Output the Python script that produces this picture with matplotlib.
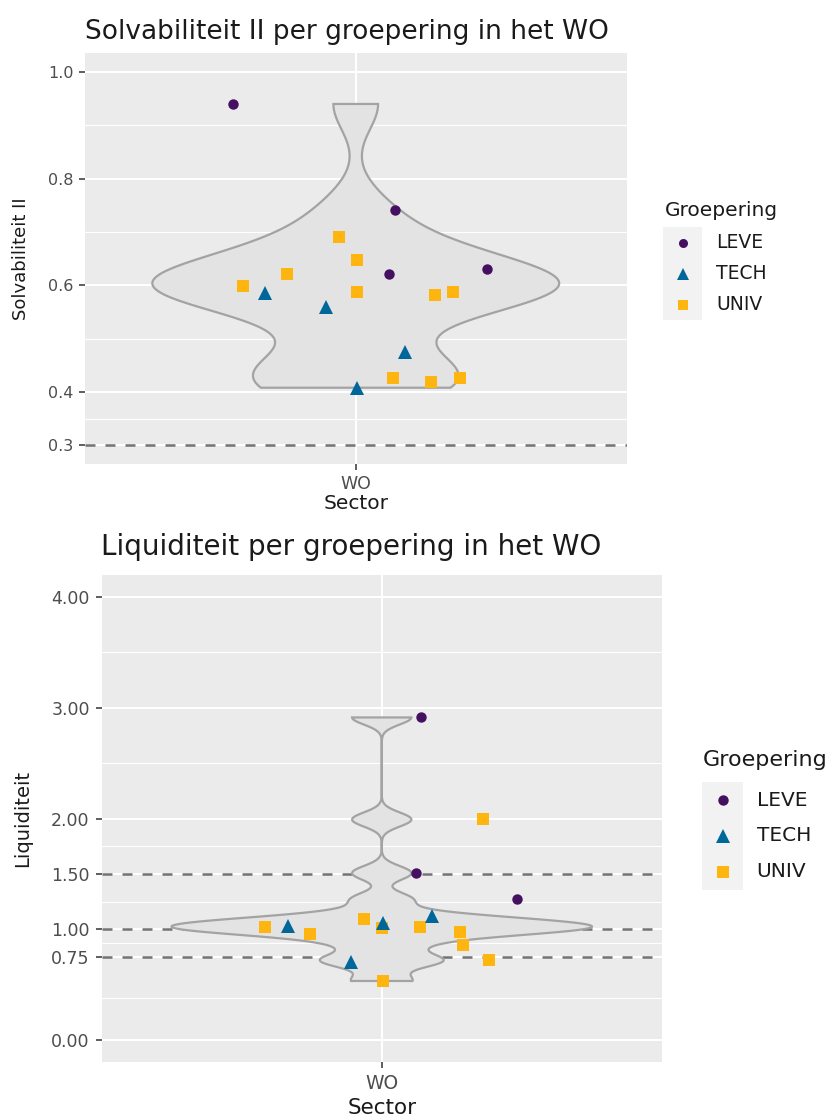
import numpy as np
import matplotlib
matplotlib.use("Agg")
import matplotlib.pyplot as plt
from matplotlib.lines import Line2D
from matplotlib.patches import Rectangle

plt.rcParams['font.family'] = ['DejaVu Sans']

# ---------------- data ----------------
groups = ["LEVE", "TECH", "UNIV"]
group_colors = {"LEVE": "#451060", "TECH": "#00679A", "UNIV": "#FFB50F"}
group_markers = {"LEVE": "o", "TECH": "^", "UNIV": "s"}

# Solvabiliteit II (top panel); jitter = horizontal jitter
solv_leve = [0.940, 0.741, 0.621, 0.630]
solv_leve_jit = [0.729, 1.086, 1.074, 1.290]
solv_tech = [0.585, 0.560, 0.475, 0.408]
solv_tech_jit = [0.800, 0.934, 1.108, 1.003]
solv_univ = [0.599, 0.621, 0.690, 0.648, 0.588, 0.582, 0.588, 0.427, 0.419, 0.427]
solv_univ_jit = [0.750, 0.847, 0.964, 1.002, 1.003, 1.175, 1.216, 1.082, 1.167, 1.231]

# Liquiditeit (bottom panel)
liq_leve = [2.913, 1.507, 1.270]
liq_leve_jit = [1.083, 1.074, 1.289]
liq_tech = [1.030, 0.705, 1.120, 1.054]
liq_tech_jit = [0.800, 0.934, 1.107, 1.002]
liq_univ = [1.018, 0.952, 1.090, 1.012, 0.532, 0.856, 1.991, 1.018, 0.976, 0.724]
liq_univ_jit = [0.749, 0.846, 0.963, 1.000, 1.003, 1.173, 1.217, 1.081, 1.167, 1.230]

solv_ticks = [0.3, 0.4, 0.6, 0.8, 1.0]
solv_tick_labels = ["0.3", "0.4", "0.6", "0.8", "1.0"]
solv_hlines = [0.3]
liq_ticks = [0.0, 0.75, 1.0, 1.5, 2.0, 3.0, 4.0]
liq_tick_labels = ["0.00", "0.75", "1.00", "1.50", "2.00", "3.00", "4.00"]
liq_hlines = [0.75, 1.0, 1.5]
x_category = "WO"

W, H = 832, 1118
fig = plt.figure(figsize=(W / 100, H / 100), dpi=100)


def fx(x):
    return x / W


def fy(y):
    return 1 - y / H


def nrd0(x):
    x = np.asarray(x, float)
    hi = np.std(x, ddof=1)
    iqr = np.quantile(x, 0.75) - np.quantile(x, 0.25)
    lo = min(hi, iqr / 1.34)
    if lo <= 0:
        lo = hi
    return 0.9 * lo * len(x) ** (-0.2)


def violin(ax, vals):
    vals = np.asarray(vals, float)
    bw = nrd0(vals)
    ys = np.linspace(vals.min(), vals.max(), 512)
    dens = np.exp(-0.5 * ((ys[:, None] - vals[None, :]) / bw) ** 2).sum(axis=1)
    w = dens / dens.max() * 0.45
    xs = np.concatenate([1 - w, (1 + w)[::-1]])
    yy = np.concatenate([ys, ys[::-1]])
    ax.fill(xs, yy, facecolor="#E3E3E3", edgecolor="#A3A3A3", lw=1.6, zorder=3)


def panel(box, ylim, ticks, ticklabels, hlines, tick_fs, xtick_fs, pad, ticklen):
    l, t, r, b = box
    ax = fig.add_axes([fx(l), fy(b), fx(r) - fx(l), (b - t) / H])
    ax.set_facecolor("#EBEBEB")
    for s in ax.spines.values():
        s.set_visible(False)
    ax.set_xlim(0.4, 1.6)
    ax.set_ylim(*ylim)
    ax.set_xticks([1])
    ax.set_xticklabels([x_category])
    ax.set_yticks(ticks)
    ax.set_yticklabels(ticklabels)
    minors = [(a + c) / 2 for a, c in zip(ticks[:-1], ticks[1:])]
    ax.set_yticks(minors, minor=True)
    ax.tick_params(axis="both", which="major", length=ticklen, width=1.1,
                   color="#333333", labelcolor="#4D4D4D", labelsize=tick_fs, pad=pad)
    ax.tick_params(axis="x", which="major", labelsize=xtick_fs)
    ax.tick_params(axis="y", which="minor", length=0)
    ax.grid(True, which="major", color="white", lw=1.5, zorder=0)
    ax.grid(True, which="minor", axis="y", color="white", lw=0.8, zorder=0)
    ax.set_axisbelow(True)
    for h in hlines:
        ax.axhline(h, color="#737373", lw=1.8, dashes=(4, 4), zorder=2)
    return ax


def points(ax, data, ms):
    # draw UNIV first, then TECH, then LEVE (as in the reference stacking)
    for g in ["UNIV", "TECH", "LEVE"]:
        vals, jit = data[g]
        ax.plot(jit, vals, ls="none", marker=group_markers[g], ms=ms[g],
                color=group_colors[g], mew=0, zorder=5)


def legend(title_xy, title_fs, box, keys_x, keys_y, label_x, label_fs, ms):
    fig.text(fx(title_xy[0]), fy(title_xy[1]), "Groepering", fontsize=title_fs,
             color="#1A1A1A", ha="left", va="center")
    l, t, r, b = box
    fig.add_artist(Rectangle((fx(l), fy(b)), fx(r) - fx(l), (b - t) / H,
                             transform=fig.transFigure, facecolor="#F2F2F2",
                             edgecolor="none"))
    for g, y in zip(groups, keys_y):
        fig.add_artist(Line2D([fx(keys_x)], [fy(y)], transform=fig.transFigure,
                              ls="none", marker=group_markers[g], ms=ms[g],
                              color=group_colors[g], mew=0))
        fig.text(fx(label_x), fy(y), g, fontsize=label_fs, color="#1A1A1A",
                 ha="left", va="center")


# ---------------- top panel ----------------
top_box = (84.5, 53.3, 627, 464)
ax1 = panel(top_box, (0.265, 1.035), solv_ticks, solv_tick_labels, solv_hlines,
            11.5, 12.5, 3.5, 4.5)
violin(ax1, solv_leve + solv_tech + solv_univ)
points(ax1, {"LEVE": (solv_leve, solv_leve_jit), "TECH": (solv_tech, solv_tech_jit),
             "UNIV": (solv_univ, solv_univ_jit)},
       {"LEVE": 7.5, "TECH": 9.5, "UNIV": 8.0})
fig.text(fx(85), fy(39), "Solvabiliteit II per groepering in het WO", fontsize=19,
         color="#1A1A1A", ha="left", va="baseline")
ax1.set_xlabel("Sector", fontsize=14.5, color="#1A1A1A")
ax1.xaxis.set_label_coords(0.5, (464 - 503) / (464 - 53.3))
ax1.xaxis.label.set_va("center")
ax1.set_ylabel("Solvabiliteit II", fontsize=13, color="#1A1A1A")
ax1.yaxis.set_label_coords((21 - 84.5) / (627 - 84.5), 0.5)
ax1.yaxis.label.set_va("center")
legend((665, 210), 14.5, (662.7, 227, 702, 320), 683, [243, 273.5, 305], 716, 13.5,
       {"LEVE": 6.5, "TECH": 8.5, "UNIV": 7.0})

# ---------------- bottom panel ----------------
bot_box = (101.5, 575, 662, 1062)
ax2 = panel(bot_box, (-0.2, 4.2), liq_ticks, liq_tick_labels, liq_hlines,
            12.5, 13.5, 4.0, 4.5)
violin(ax2, liq_leve + liq_tech + liq_univ)
points(ax2, {"LEVE": (liq_leve, liq_leve_jit), "TECH": (liq_tech, liq_tech_jit),
             "UNIV": (liq_univ, liq_univ_jit)},
       {"LEVE": 7.5, "TECH": 9.5, "UNIV": 8.0})
fig.text(fx(101), fy(555), "Liquiditeit per groepering in het WO", fontsize=20,
         color="#1A1A1A", ha="left", va="baseline")
ax2.set_xlabel("Sector", fontsize=15.5, color="#1A1A1A")
ax2.xaxis.set_label_coords(0.5, (1062 - 1108) / (1062 - 575))
ax2.xaxis.label.set_va("center")
ax2.set_ylabel("Liquiditeit", fontsize=14, color="#1A1A1A")
ax2.yaxis.set_label_coords((23 - 101.5) / (662 - 101.5), 0.5)
ax2.yaxis.label.set_va("center")
legend((702.7, 760), 16, (701.7, 781.7, 743.3, 890), 722.5, [800, 835.5, 871.7],
       756.7, 14.5, {"LEVE": 7.5, "TECH": 9.5, "UNIV": 8.0})

fig.savefig("out.png", dpi=100, facecolor="white")
